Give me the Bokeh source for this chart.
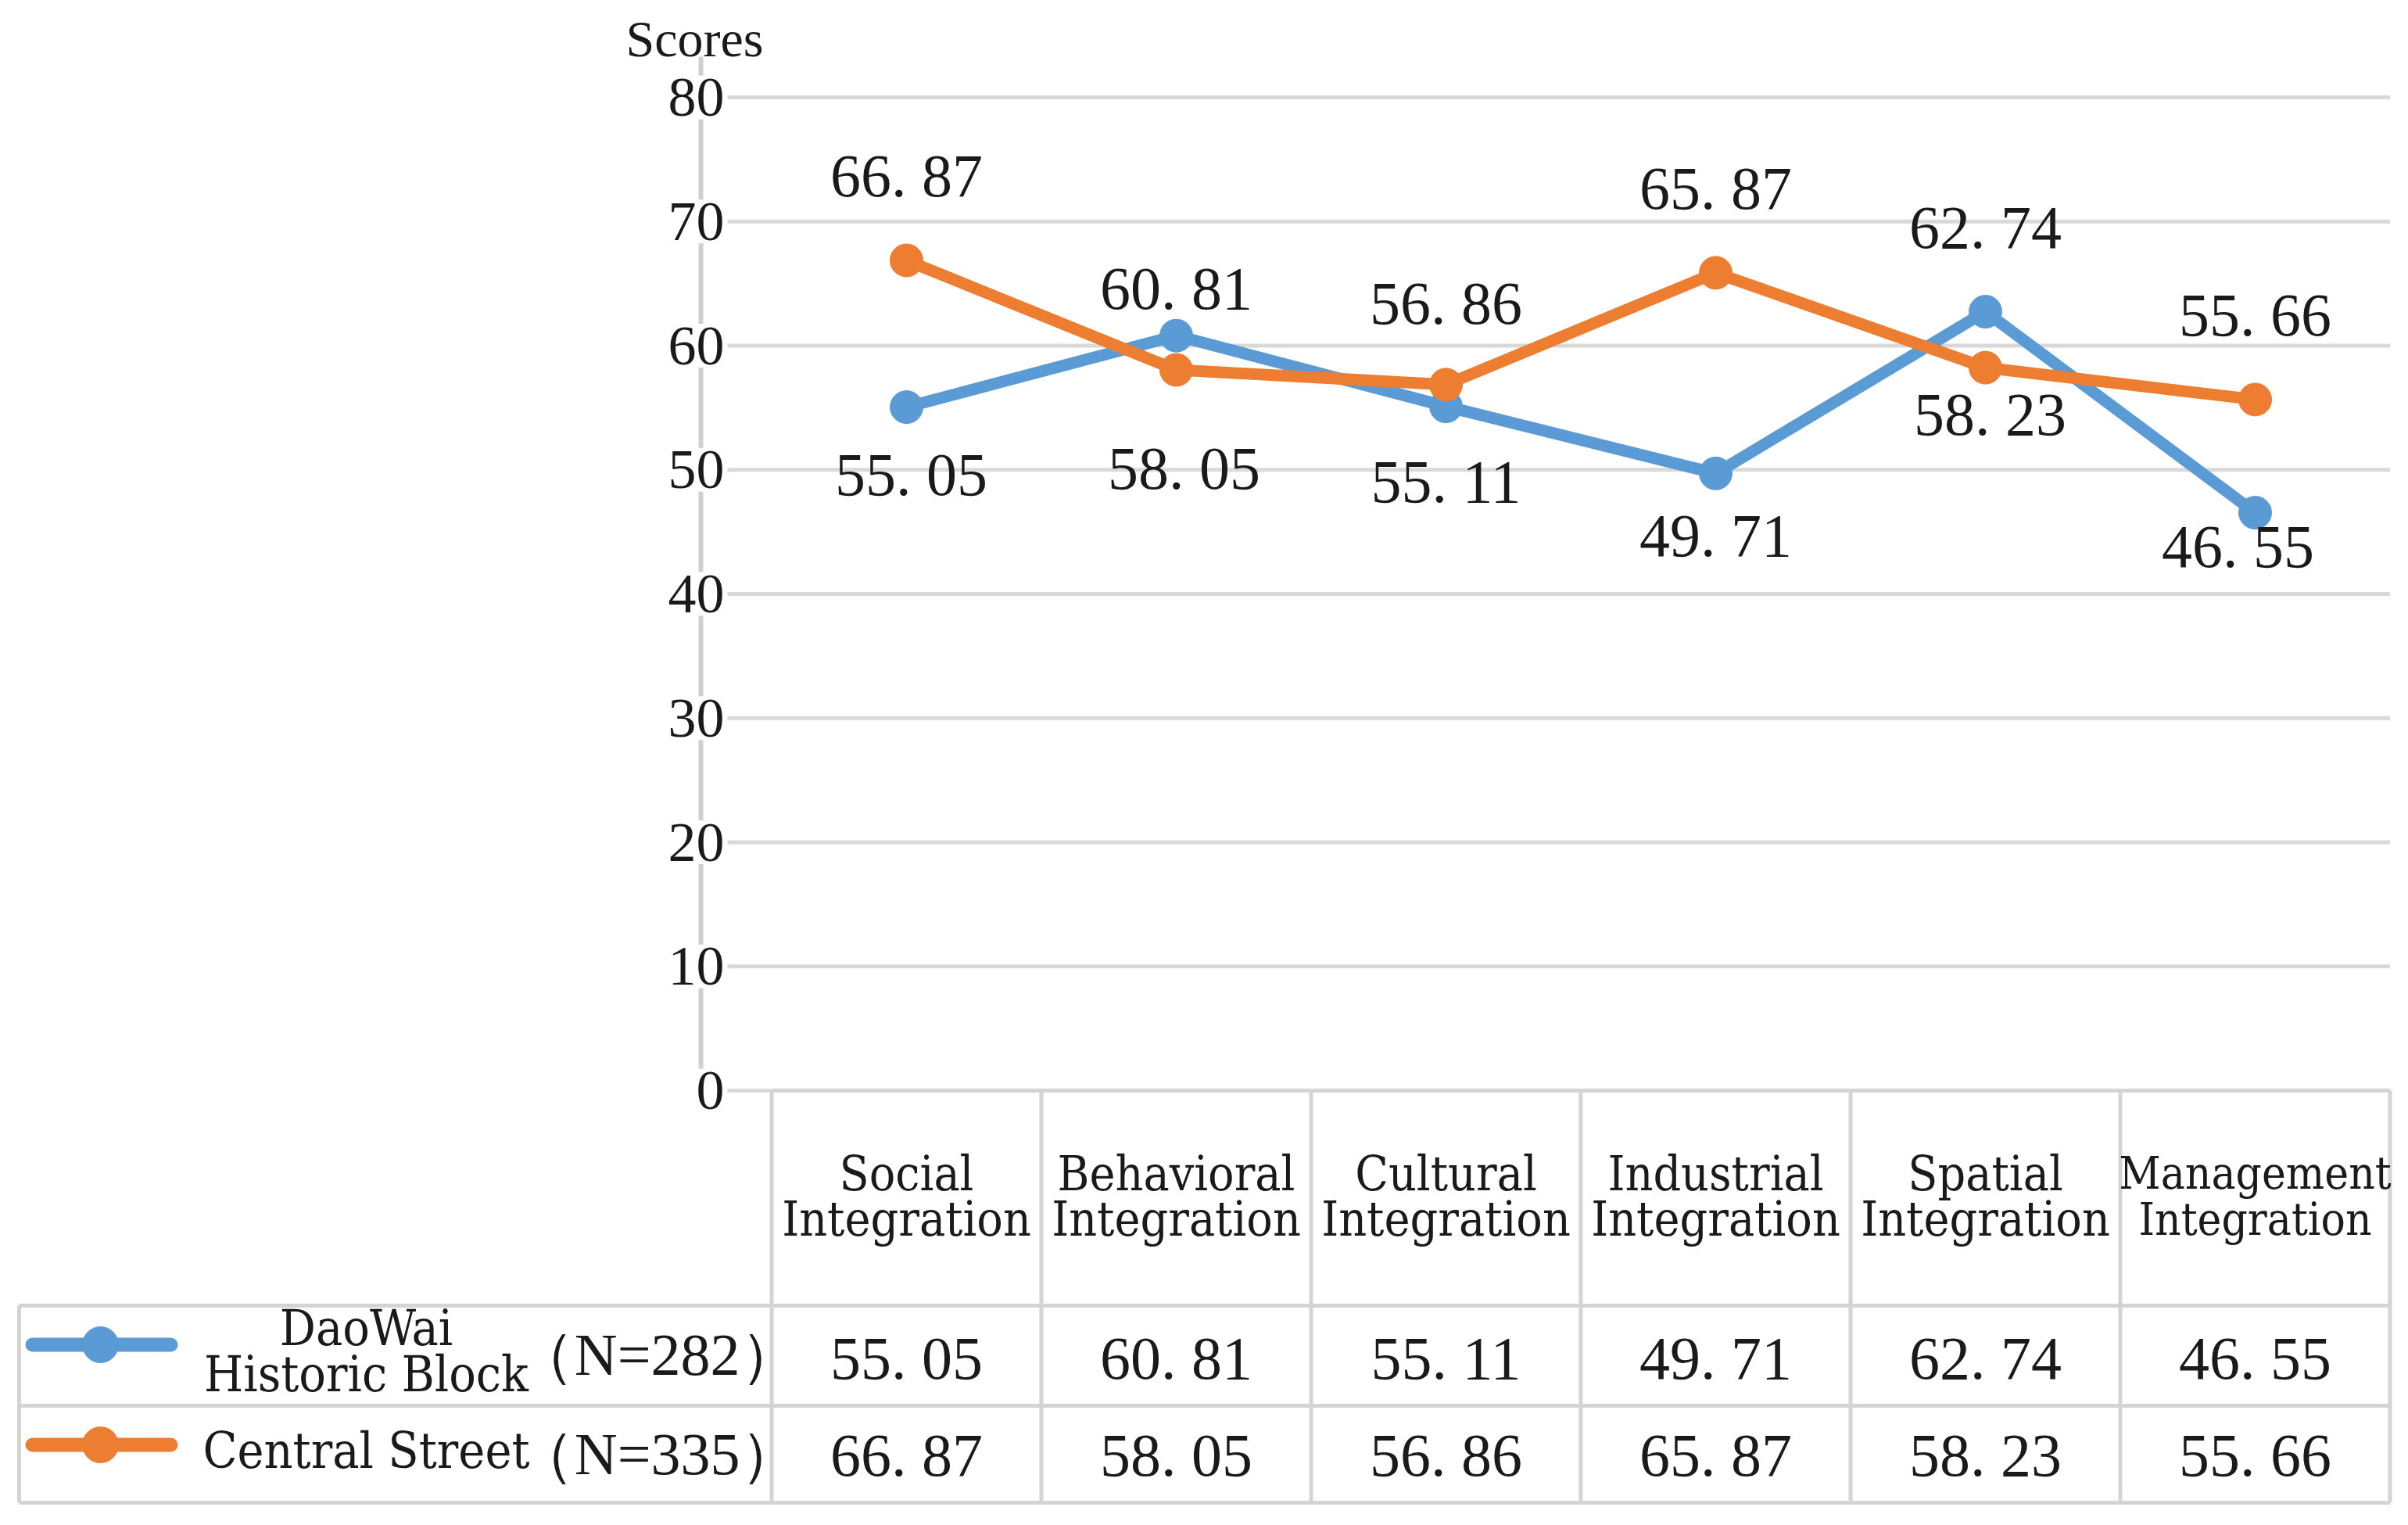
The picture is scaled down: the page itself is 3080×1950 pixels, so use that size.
from bokeh.plotting import figure
from bokeh.models import ColumnDataSource, Range1d
from bokeh.core.properties import value
from bokeh.embed import file_html
from bokeh.resources import INLINE

# ---------------- data ----------------
categories = ["Social Integration", "Behavioral Integration", "Cultural Integration",
              "Industrial Integration", "Spatial Integration", "Management Integration"]
series_names = ["DaoWai Historic Block", "Central Street"]
series_n = [282, 335]
daowai = [55.05, 60.81, 55.11, 49.71, 62.74, 46.55]
central = [66.87, 58.05, 56.86, 65.87, 58.23, 55.66]
y_ticks = [0, 10, 20, 30, 40, 50, 60, 70, 80]
y_title = "Scores"

# ---------------- label placement (screen px; + = up / right) ----------------
daowai_label_dy = [-86, 61, -96, -79, 108, -43]
daowai_label_dx = [6, 0, 0, 0, 0, -22]
central_label_dy = [108, -126, 104, 108, -59, 108]
central_label_dx = [0, 10, 0, 0, 6, 0]

# header font sizes (the long "Management" label is set a little smaller to fit its cell)
header_sizes = [62, 62, 62, 62, 62, 58]
HEADER_LINE_GAP = 50  # px between the two header lines

# ---------------- styles ----------------
BLUE = "#5B9BD5"
ORANGE = "#ED7D31"
GRID = "#D9D9D9"
BORDER = "#D4D4D4"
TXT = "#1a1a1a"
NUM_FONT = value("Liberation Serif")
LBL_FONT = value("DejaVu Serif Condensed")

# ---------------- layout (page pixels) ----------------
W, H, PAGE = 3064, 1934, 0
COL_W = 345.0        # px per category column
X0 = 1159.0          # page x of first category centre
PX_PER_UNIT = 15.875 # px per score unit
Y0 = 1394.0          # page y of score 0


def dx(px):
    return (px - X0) / COL_W


def dy(px):
    return (Y0 - px) / PX_PER_UNIT


n = len(categories)
xs = list(range(n))

p = figure(width=W, height=H, output_backend="svg", toolbar_location=None,
           x_range=Range1d(dx(PAGE), dx(PAGE + W)),
           y_range=Range1d(dy(PAGE + H), dy(PAGE)),
           x_axis_type=None, y_axis_type=None, min_border=0)
p.grid.visible = False
p.outline_line_color = None
p.background_fill_color = "white"
p.border_fill_color = "white"

# ---------------- gridlines & axis line ----------------
right_edge = n - 0.5
p.segment(x0=[dx(928)] * len(y_ticks), x1=[right_edge] * len(y_ticks),
          y0=y_ticks, y1=y_ticks, line_color=GRID, line_width=5)
p.segment(x0=[dx(896)], x1=[dx(896)], y0=[0], y1=[dy(72)], line_color="#CFCFCF", line_width=6)

# white boxes behind tick labels (they interrupt the axis line)
p.rect(x=[dx(890)] * len(y_ticks), y=y_ticks, width=80, height=56,
       width_units="screen", height_units="screen", fill_color="white", line_color=None)
p.text(x=[dx(926)] * len(y_ticks), y=y_ticks, text=[str(t) for t in y_ticks],
       text_font=NUM_FONT, text_font_size="72px", text_align="right",
       text_baseline="middle", text_color=TXT)
p.text(x=[dx(888)], y=[dy(49)], text=[y_title], text_font=NUM_FONT,
       text_font_size="66px", text_align="center", text_baseline="middle", text_color=TXT)

# ---------------- series ----------------
for vals, col in ((daowai, BLUE), (central, ORANGE)):
    p.line(xs, vals, line_color=col, line_width=15)
    p.scatter(xs, vals, size=42, fill_color=col, line_color=col)


def fmt(v):
    return f"{v:.2f}".replace(".", ". ")


for vals, ddy, ddx in ((daowai, daowai_label_dy, daowai_label_dx),
                       (central, central_label_dy, central_label_dx)):
    src = ColumnDataSource(dict(
        x=[i + ddx[i] / COL_W for i in xs],
        y=[vals[i] + ddy[i] / PX_PER_UNIT for i in xs],
        t=[fmt(v) for v in vals]))
    p.text(x="x", y="y", text="t", source=src, text_font=NUM_FONT,
           text_font_size="78px", text_align="center", text_baseline="middle",
           text_color=TXT)

# ---------------- data table ----------------
hdr_bottom = dy(1669)
row1_bottom = dy(1797)
row2_bottom = dy(1921)
table_left = dx(24)
bounds = [i - 0.5 for i in range(n + 1)]

# header top
p.segment(x0=[-0.5], x1=[right_edge], y0=[0], y1=[0], line_color=BORDER, line_width=5)
# column separators
p.segment(x0=bounds, x1=bounds, y0=[0] * len(bounds), y1=[row2_bottom] * len(bounds),
          line_color=BORDER, line_width=5)
# row lines
rows_y = [hdr_bottom, row1_bottom, row2_bottom]
p.segment(x0=[table_left] * 3, x1=[right_edge] * 3, y0=rows_y, y1=rows_y,
          line_color=BORDER, line_width=5)
# left border
p.segment(x0=[table_left], x1=[table_left], y0=[hdr_bottom], y1=[row2_bottom],
          line_color=BORDER, line_width=5)

# header texts (one glyph per font size so the line gap stays the same)
for size in sorted(set(header_sizes)):
    idx = [i for i in xs if header_sizes[i] == size]
    p.text(x=idx, y=[dy(1529)] * len(idx),
           text=[categories[i].replace(" ", "\n") for i in idx],
           text_font=LBL_FONT, text_font_size=f"{size}px", text_align="center",
           text_baseline="middle", text_line_height=HEADER_LINE_GAP / size,
           text_color=TXT)

# value rows
row_text_y = [dy(1736), dy(1860)]
for vals, yy in zip((daowai, central), row_text_y):
    p.text(x=xs, y=[yy] * n, text=[fmt(v) for v in vals], text_font=NUM_FONT,
           text_font_size="78px", text_align="center", text_baseline="middle",
           text_color=TXT)

# legend keys
key_y = [dy(1719), dy(1847)]
name_y = [dy(1727), dy(1854)]
n_y = [dy(1731), dy(1858)]
for col, ky in zip((BLUE, ORANGE), key_y):
    p.segment(x0=[dx(41)], x1=[dx(218)], y0=[ky], y1=[ky], line_color=col,
              line_width=18, line_cap="round")
    p.scatter([dx(128)], [ky], size=46, fill_color=col, line_color=col)

p.text(x=[dx(468)] * 2, y=name_y, text=[s.replace(" ", "\n", 1) if len(s) > 16 else s
                                         for s in series_names],
       text_font=LBL_FONT, text_font_size="64px", text_align="center",
       text_baseline="middle", text_line_height=0.8, text_color=TXT)
p.text(x=[dx(1022)] * 2, y=n_y, text=[f"（N={k}）" for k in series_n],
       text_font=NUM_FONT, text_font_size="76px", text_align="right",
       text_baseline="middle", text_color=TXT)

open("out.html", "w").write(file_html(p, INLINE))
